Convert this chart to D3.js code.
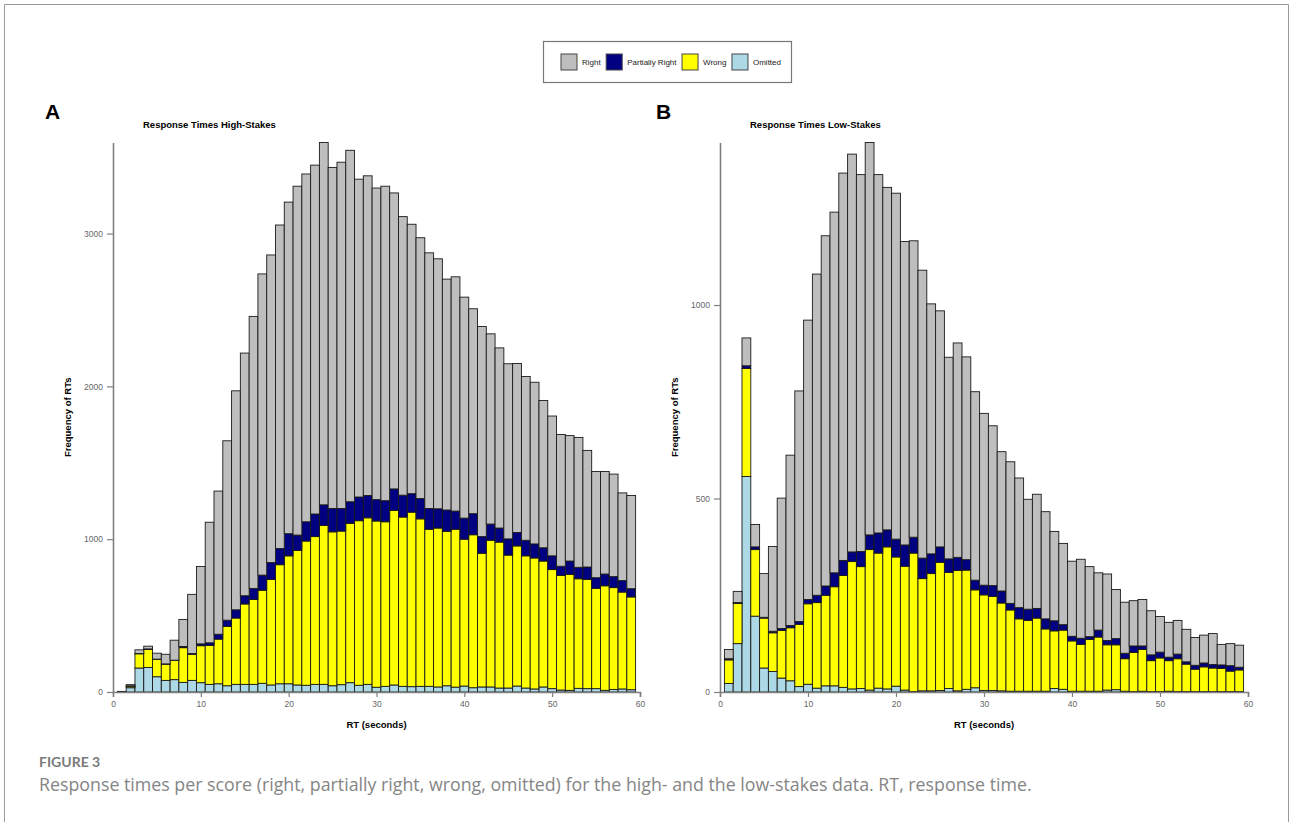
<!DOCTYPE html>
<html>
<head>
<meta charset="utf-8">
<script src="https://cdn.jsdelivr.net/npm/d3@7"></script>
<style>
  body { margin: 0; background: #fff; }
  svg { display: block; }
</style>
</head>
<body>
<div id="chart"></div>
<script>
// bins are 1-second wide, centred on 1..59 s
const bins = d3.range(1, 60);

const categories = ['Right', 'Partially Right', 'Wrong', 'Omitted'];
const colors = { 'Right': '#bebebe', 'Partially Right': '#000080', 'Wrong': '#ffff00', 'Omitted': '#add8e6' };

// high-stakes counts per bin
const highRight = [1, 8, 24, 18, 39, 63, 131, 177, 387, 506, 789, 937, 1174, 1433, 1588, 1780, 1971, 2013, 2117, 2170,
  2283, 2276, 2283, 2371, 2232, 2266, 2300, 2080, 2092, 2039, 2058, 1937, 1823, 1763, 1707, 1673, 1636, 1511, 1533, 1446,
  1341, 1375, 1245, 1179, 1146, 1106, 1072, 1058, 964, 915, 862, 821, 850, 763, 695, 671, 671, 574, 610];
const highPartial = [0, 2, 2, 4, 2, 2, 2, 8, 5, 12, 17, 32, 41, 54, 54, 73, 99, 111, 106, 145,
  100, 126, 148, 135, 153, 148, 141, 155, 146, 140, 138, 140, 143, 121, 133, 136, 126, 140, 119, 138,
  138, 109, 106, 92, 106, 88, 102, 92, 87, 90, 60, 87, 75, 82, 70, 77, 72, 75, 54];
const highWrong = [2, 10, 93, 118, 113, 106, 125, 227, 171, 242, 255, 292, 388, 434, 526, 555, 609, 690, 779, 837,
  881, 944, 967, 1040, 1007, 1005, 1043, 1077, 1090, 1088, 1077, 1143, 1108, 1142, 1096, 1028, 1040, 1010, 1033, 961,
  1001, 875, 960, 955, 870, 917, 865, 857, 824, 779, 750, 759, 717, 714, 656, 684, 666, 634, 607];
const highOmitted = [1, 28, 157, 160, 100, 76, 81, 63, 76, 61, 50, 54, 41, 50, 50, 50, 57, 46, 54, 54,
  46, 44, 50, 50, 41, 48, 61, 44, 50, 31, 37, 46, 37, 35, 37, 37, 33, 41, 32, 39,
  28, 33, 33, 26, 26, 39, 26, 20, 33, 22, 13, 11, 24, 22, 22, 11, 17, 20, 15];

// low-stakes counts per bin
const lowRight = [24, 29, 72, 58, 113, 219, 337, 440, 596, 722, 830, 905, 932, 1001, 1028, 974, 1014, 926, 885, 894,
  784, 766, 744, 646, 610, 521, 554, 524, 487, 444, 413, 360, 366, 335, 284, 295, 277, 231, 210, 194,
  204, 181, 148, 172, 127, 132, 117, 120, 114, 92, 90, 87, 84, 72, 72, 80, 53, 57, 57];
const lowPartial = [3, 2, 7, 7, 2, 4, 5, 6, 7, 11, 19, 24, 36, 39, 25, 39, 38, 52, 44, 46,
  55, 41, 53, 51, 40, 35, 34, 27, 25, 25, 28, 31, 17, 29, 29, 25, 26, 26, 14, 12,
  16, 7, 18, 11, 16, 14, 17, 9, 15, 15, 9, 12, 6, 10, 10, 9, 9, 14, 7];
const lowWrong = [61, 104, 279, 172, 129, 100, 123, 137, 161, 208, 221, 234, 256, 289, 329, 315, 363, 349, 367, 334,
  320, 358, 290, 303, 331, 300, 311, 308, 253, 247, 243, 227, 210, 187, 183, 189, 161, 149, 153, 130,
  121, 134, 140, 117, 116, 84, 101, 108, 80, 87, 79, 85, 71, 58, 64, 61, 60, 53, 56];
const lowOmitted = [22, 125, 557, 196, 62, 53, 36, 29, 14, 20, 10, 16, 16, 12, 8, 9, 5, 10, 8, 15,
  5, 1, 3, 3, 4, 9, 3, 7, 11, 4, 4, 3, 2, 2, 2, 2, 2, 9, 7, 2,
  2, 2, 2, 5, 6, 2, 1, 2, 1, 1, 2, 1, 1, 1, 1, 1, 1, 1, 1];

const xTicks = [0, 10, 20, 30, 40, 50, 60];
const highYTicks = [0, 1000, 2000, 3000];
const lowYTicks = [0, 500, 1000];

const width = 1290, height = 822;
const svg = d3.select('#chart').append('svg')
  .attr('width', width)
  .attr('height', height)
  .style('font-family', 'Liberation Sans, Arial, sans-serif');

svg.append('rect').attr('width', width).attr('height', height).attr('fill', '#fff');

// figure frame
svg.append('path')
  .attr('d', `M4.5,${height} V4.5 H1288.5 V${height}`)
  .attr('fill', 'none')
  .attr('stroke', '#999')
  .attr('stroke-width', 1);

function makeRows(right, partial, wrong, omitted) {
  return bins.map((b, i) => ({
    bin: b,
    'Right': right[i],
    'Partially Right': partial[i],
    'Wrong': wrong[i],
    'Omitted': omitted[i]
  }));
}

function drawPanel(opts) {
  const { rows, left, right, top, bottom, yTicks, title, letter, letterX } = opts;
  const g = svg.append('g');

  const x = d3.scaleLinear().domain([0, 60]).range([left, right]);
  const stackOrder = ['Omitted', 'Wrong', 'Partially Right', 'Right'];
  const series = d3.stack().keys(stackOrder)(rows);
  const yMax = d3.max(rows, d => stackOrder.reduce((s, k) => s + d[k], 0));
  const y = d3.scaleLinear().domain([0, yMax]).range([bottom, top]);

  g.selectAll('.layer')
    .data(series)
    .join('g')
    .attr('class', 'layer')
    .attr('fill', d => colors[d.key])
    .selectAll('rect')
    .data(d => d)
    .join('rect')
    .attr('x', d => x(d.data.bin - 0.5))
    .attr('width', d => x(d.data.bin + 0.5) - x(d.data.bin - 0.5))
    .attr('y', d => y(d[1]))
    .attr('height', d => y(d[0]) - y(d[1]))
    .attr('stroke', '#1a1a1a')
    .attr('stroke-width', 0.9);

  // x axis
  const xAxis = g.append('g')
    .attr('transform', `translate(0,${bottom})`)
    .call(d3.axisBottom(x).tickValues(xTicks).tickSize(5).tickPadding(4).tickFormat(d3.format('d')));
  xAxis.select('.domain').attr('stroke', '#808080').attr('stroke-width', 1.6);
  xAxis.selectAll('.tick line').attr('stroke', '#808080').attr('stroke-width', 1.2);
  xAxis.selectAll('.tick text').attr('fill', '#666').style('font-size', '8.5px');

  // y axis
  const yAxis = g.append('g')
    .attr('transform', `translate(${left},0)`)
    .call(d3.axisLeft(y).tickValues(yTicks).tickSize(6).tickSizeOuter(0).tickPadding(4).tickFormat(d3.format('d')));
  yAxis.select('.domain').attr('stroke', '#808080').attr('stroke-width', 1.6);
  yAxis.selectAll('.tick line').attr('stroke', '#808080').attr('stroke-width', 1.2);
  yAxis.selectAll('.tick text').attr('fill', '#666').style('font-size', '8.5px');

  g.append('text')
    .attr('x', left + 30)
    .attr('y', 128)
    .attr('font-weight', 'bold')
    .style('font-size', '9.5px')
    .text(title);

  g.append('text')
    .attr('x', letterX)
    .attr('y', 119)
    .attr('font-weight', 'bold')
    .style('font-size', '21px')
    .text(letter);

  g.append('text')
    .attr('transform', `translate(${left - 42},${(top + bottom) / 2}) rotate(-90)`)
    .attr('text-anchor', 'middle')
    .attr('font-weight', 'bold')
    .style('font-size', '9.5px')
    .text('Frequency of RTs');

  g.append('text')
    .attr('x', (left + right) / 2)
    .attr('y', 728)
    .attr('text-anchor', 'middle')
    .attr('font-weight', 'bold')
    .style('font-size', '9.5px')
    .text('RT (seconds)');
}

drawPanel({
  rows: makeRows(highRight, highPartial, highWrong, highOmitted),
  left: 113, right: 640, top: 142.5, bottom: 692,
  yTicks: highYTicks, title: 'Response Times High-Stakes', letter: 'A', letterX: 45
});

drawPanel({
  rows: makeRows(lowRight, lowPartial, lowWrong, lowOmitted),
  left: 720, right: 1248, top: 142.5, bottom: 692,
  yTicks: lowYTicks, title: 'Response Times Low-Stakes', letter: 'B', letterX: 656
});

// legend
const legend = svg.append('g');
legend.append('rect')
  .attr('x', 543.5).attr('y', 41.5)
  .attr('width', 248).attr('height', 41)
  .attr('fill', '#fff')
  .attr('stroke', '#777')
  .attr('stroke-width', 1.2);

let lx = 561;
categories.forEach(c => {
  legend.append('rect')
    .attr('x', lx).attr('y', 54)
    .attr('width', 16).attr('height', 16)
    .attr('fill', colors[c])
    .attr('stroke', '#444')
    .attr('stroke-width', 1);
  const t = legend.append('text')
    .attr('x', lx + 21).attr('y', 65)
    .attr('fill', '#222')
    .style('font-size', '8px')
    .text(c);
  lx += 21 + t.node().getComputedTextLength() + 5.5;
});

// caption
svg.append('text')
  .attr('x', 39).attr('y', 767)
  .attr('fill', '#7a7a7a')
  .attr('font-weight', 'bold')
  .style('font-family', 'Lato, Open Sans, sans-serif')
  .style('font-size', '14px')
  .text('FIGURE 3');

svg.append('text')
  .attr('x', 39).attr('y', 791)
  .attr('fill', '#858585')
  .style('font-family', 'Open Sans, Lato, sans-serif')
  .style('font-size', '17.8px')
  .text('Response times per score (right, partially right, wrong, omitted) for the high- and the low-stakes data. RT, response time.');
</script>
</body>
</html>
